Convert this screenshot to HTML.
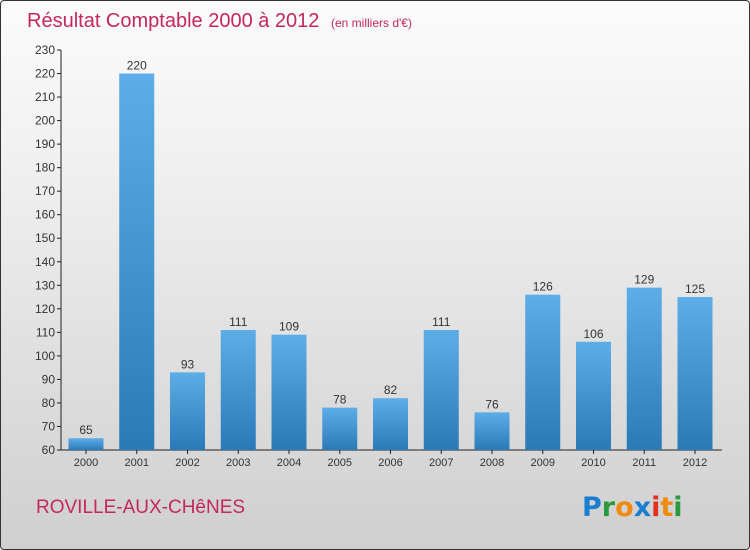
<!DOCTYPE html>
<html><head><meta charset="utf-8"><style>
body{margin:0;width:750px;height:550px;overflow:hidden;font-family:"Liberation Sans",sans-serif}
#wrap{position:absolute;left:0;top:0;width:748px;height:548px;border:1px solid #333;border-radius:4px;background:linear-gradient(#fbfbfb,#f0f0f0 30%,#cfcfcf)}
</style></head><body>
<div id="wrap">
<svg width="750" height="550" style="position:absolute;left:-1px;top:-1px" id="svg">
<defs><linearGradient id="bg" x1="0" y1="0" x2="0" y2="1"><stop offset="0" stop-color="#5dade8"/><stop offset="1" stop-color="#2a7ab8"/></linearGradient></defs>
<text x="27" y="27" font-size="20" fill="#c4285a">Résultat Comptable 2000 à 2012 <tspan font-size="12" dx="6">(en milliers d'€)</tspan></text>
<text x="36" y="513" font-size="19" fill="#c4285a">ROVILLE-AUX-CHêNES</text>
<text x="582" y="516" font-size="27" font-family="'DejaVu Sans',sans-serif" font-weight="bold"><tspan fill="#1a7fd0">P</tspan><tspan fill="#2a9a3a">r</tspan><tspan fill="#f08a10">o</tspan><tspan fill="#1a7fd0">x</tspan><tspan fill="#e03020">i</tspan><tspan fill="#f08a10">t</tspan><tspan fill="#2a9a3a">i</tspan></text>
<g id="g"></g>
</svg></div>
<script>
const years=["2000","2001","2002","2003","2004","2005","2006","2007","2008","2009","2010","2011","2012"];
const values=[65,220,93,111,109,78,82,111,76,126,106,129,125];
const yTicks=[60,70,80,90,100,110,120,130,140,150,160,170,180,190,200,210,220,230];
const NS="http://www.w3.org/2000/svg";
const g=document.getElementById('g');
const y=v=>450-(v-60)*400/170;
const x=i=>86+i*50.75;
function mk(t,a){const e=document.createElementNS(NS,t);for(const k in a)e.setAttribute(k,a[k]);g.appendChild(e);return e;}
let ax=mk('line',{x1:61,y1:50,x2:61,y2:450,stroke:'#222'});


let bx=mk('line',{x1:61,y1:450,x2:722,y2:450,stroke:'#222'});


yTicks.forEach(v=>{
 let l=mk('line',{x1:57,x2:61,y1:y(v),y2:y(v),stroke:'#222'});
 
 
 let t=mk('text',{x:55,y:y(v)+4,'font-size':12,'text-anchor':'end',fill:'#333'});
 t.textContent=v;
 
 
});
years.forEach((yr,i)=>{
 let r=mk('rect',{x:x(i)-17.5,y:y(values[i]),width:35,height:450-y(values[i]),fill:'url(#bg)'});
 
 
 let v=mk('text',{x:x(i),y:y(values[i])-4,'font-size':12,'text-anchor':'middle',fill:'#333'});
 v.textContent=values[i];
 
 
 let tk=mk('line',{x1:x(i),x2:x(i),y1:450,y2:454,stroke:'#222'});
 
 
 let t=mk('text',{x:x(i),y:466,'font-size':11,'text-anchor':'middle',fill:'#333'});
 t.textContent=yr;
 
 
});
</script>
</body></html>
